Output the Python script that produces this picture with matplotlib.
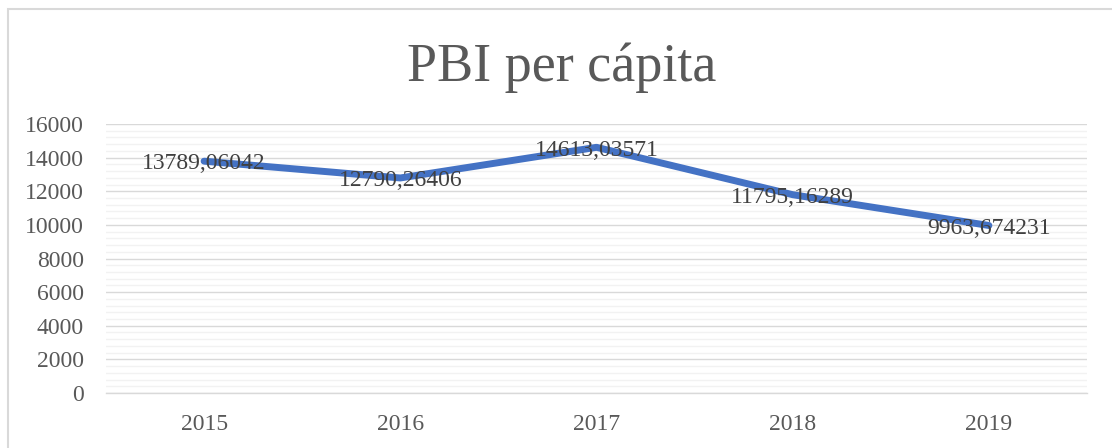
import numpy as np
import matplotlib.pyplot as plt
from matplotlib.patches import Rectangle
from matplotlib.ticker import MultipleLocator

# data
years = ["2015", "2016", "2017", "2018", "2019"]
pbi = [13789.06042, 12790.26406, 14613.03571, 11795.16289, 9963.674231]
labels = ["13789,06042", "12790,26406", "14613,03571", "11795,16289", "9963,674231"]

plt.rcParams["font.family"] = ["Liberation Serif", "DejaVu Serif"]

W, H = 1112, 448
fig = plt.figure(figsize=(W / 100, H / 100), dpi=100)

# outer chart border (runs off right/bottom edge like the reference)
fig.patches.append(Rectangle((7.5 / W, -0.1), 1.2, 1 - 9.5 / H + 0.1,
                             transform=fig.transFigure, fill=False,
                             edgecolor="#D9D9D9", linewidth=1.5))

ax = fig.add_axes([106 / W, 1 - 393 / H, (1087 - 106) / W, (393 - 124) / H])

x = np.arange(len(years))
ax.plot(x, pbi, color="#4472C4", linewidth=5, solid_capstyle="round",
        solid_joinstyle="round", zorder=3)

for xi, yi, lab in zip(x, pbi, labels):
    ax.annotate(lab, (xi, yi), xytext=(0, -2), textcoords="offset points",
                ha="center", va="center", fontsize=17, color="#404040",
                zorder=4)

ax.set_xlim(-0.5, len(years) - 0.5)
ax.set_ylim(0, 16000)
ax.yaxis.set_major_locator(MultipleLocator(2000))
ax.yaxis.set_minor_locator(MultipleLocator(400))
ax.set_xticks(x)
ax.set_xticklabels(years)

ax.grid(which="major", axis="y", color="#D9D9D9", linewidth=1.0)
ax.grid(which="minor", axis="y", color="#F2F2F2", linewidth=1.0)
ax.set_axisbelow(True)

for side in ["top", "right", "left"]:
    ax.spines[side].set_visible(False)
ax.spines["bottom"].set_color("#D9D9D9")
ax.spines["bottom"].set_linewidth(1.0)

ax.tick_params(axis="both", which="both", length=0, labelsize=17,
               labelcolor="#595959")
ax.tick_params(axis="y", pad=16)
ax.tick_params(axis="x", pad=15)

fig.text(562 / W, 1 - 68 / H, "PBI per cápita", ha="center", va="center",
         fontsize=39, color="#595959")

fig.savefig("out.png", dpi=100)
